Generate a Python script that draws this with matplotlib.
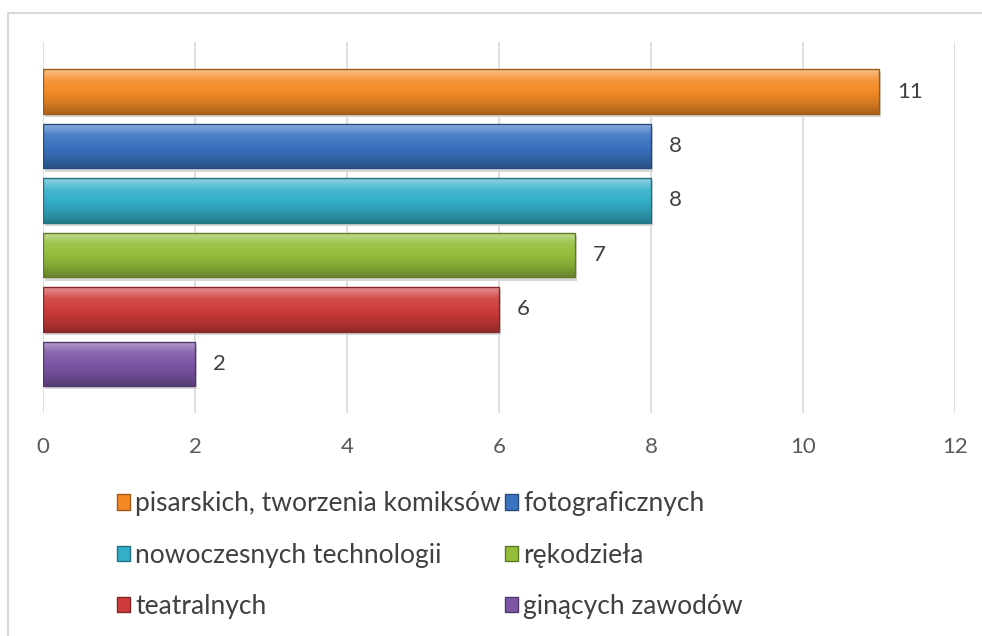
import numpy as np
import matplotlib.pyplot as plt
from matplotlib.patches import Rectangle
from matplotlib.colors import to_rgb

categories = ['pisarskich, tworzenia komiksów', 'fotograficznych',
              'nowoczesnych technologii', 'rękodzieła',
              'teatralnych', 'ginących zawodów']
values = [11, 8, 8, 7, 6, 2]
colors = ['#F48A26', '#3A74C0', '#34AFC9', '#94BE3C', '#CF3B3B', '#7D56A6']
xticks = [0, 2, 4, 6, 8, 10, 12]

plt.rcParams['font.family'] = ['Lato', 'DejaVu Sans']

fig = plt.figure(figsize=(9.82, 6.36), dpi=100)
ax = fig.add_axes([0.0438, 0.35, 0.9287, 0.584])

bar_h = 0.82

def shade(c, f):
    c = np.array(to_rgb(c))
    if f > 0:
        return c + (1 - c) * f
    return c * (1 + f)

for i, (v, c) in enumerate(zip(values, colors)):
    y0 = i - bar_h / 2
    # shadow
    ax.add_patch(Rectangle((0.03, y0 + 0.06), v, bar_h, facecolor='#d8d8d8',
                           edgecolor='none', zorder=2))
    # vertical gradient (bevel look)
    stops = [shade(c, 0.45), shade(c, 0.1), shade(c, 0.0), shade(c, -0.12), shade(c, -0.3)]
    t = np.linspace(0, 1, 60)
    pos = np.linspace(0, 1, len(stops))
    grad = np.stack([np.interp(t, pos, [s[k] for s in stops]) for k in range(3)], axis=-1)
    img = grad[:, None, :]
    rect = Rectangle((0, y0), v, bar_h, facecolor='none',
                     edgecolor=shade(c, -0.35), linewidth=1.0, zorder=4)
    ax.add_patch(rect)
    im = ax.imshow(img, extent=(0, v, y0 + bar_h, y0), origin='upper',
                   aspect='auto', zorder=3, interpolation='bilinear')
    im.set_clip_path(rect)
    ax.text(v + 0.24, i, str(v), va='center', ha='left', fontsize=16,
            color='#404040', zorder=5)

ax.set_xlim(0, 12)
ax.set_ylim(5.91, -0.91)
ax.set_xticks(xticks)
ax.set_yticks([])
ax.grid(axis='x', color='#d9d9d9', linewidth=1.2, zorder=0)
ax.set_axisbelow(True)
for s in ax.spines.values():
    s.set_visible(False)
ax.tick_params(axis='x', length=0, pad=17, labelsize=16, labelcolor='#595959')

handles = [Rectangle((0, 0), 1, 1, facecolor=c, edgecolor=shade(c, -0.35)) for c in colors]
order = [0, 2, 4, 1, 3, 5]
fig.legend([handles[k] for k in order], [categories[k] for k in order],
           ncol=2, loc='upper left', bbox_to_anchor=(0.108, 0.244),
           frameon=False, fontsize=19, labelcolor='#404040',
           handlelength=0.5, handleheight=0.5, handletextpad=0.2,
           columnspacing=0.15, labelspacing=1.0, borderaxespad=0)

# chart border
fig.add_artist(Rectangle((0.008, -0.1), 1.2, 1.08, transform=fig.transFigure,
                         facecolor='none', edgecolor='#d9d9d9', linewidth=1.5))

fig.savefig('out.png', dpi=100)
